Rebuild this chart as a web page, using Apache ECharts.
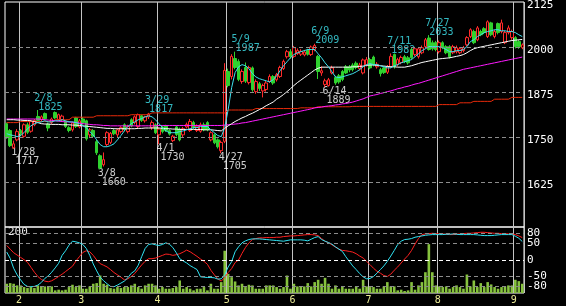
<!DOCTYPE html>
<html><head><meta charset="utf-8">
<script src="https://cdn.jsdelivr.net/npm/echarts/dist/echarts.min.js"></script>
<style>html,body{margin:0;padding:0;background:#000;}#c{width:566px;height:306px;}</style>
</head><body><div id="c"></div>
<script>
const dates = ['1/26','1/27','1/28','1/31',
'2/1','2/2','2/3','2/4','2/7','2/8','2/9','2/10','2/14','2/15','2/16','2/17','2/18','2/21','2/22','2/24','2/25','2/28',
'3/1','3/2','3/3','3/4','3/7','3/8','3/9','3/10','3/11','3/14','3/15','3/16','3/17','3/18','3/22','3/23','3/24','3/25','3/28','3/29','3/30','3/31',
'4/1','4/4','4/5','4/6','4/7','4/8','4/11','4/12','4/13','4/14','4/15','4/18','4/19','4/20','4/21','4/22','4/25','4/26','4/27','4/28',
'5/2','5/6','5/9','5/10','5/11','5/12','5/13','5/16','5/17','5/18','5/19','5/20','5/23','5/24','5/25','5/26','5/27','5/30','5/31',
'6/1','6/2','6/3','6/6','6/7','6/8','6/9','6/10','6/13','6/14','6/15','6/16','6/17','6/20','6/21','6/22','6/23','6/24','6/27','6/28','6/29','6/30',
'7/1','7/4','7/5','7/6','7/7','7/8','7/11','7/12','7/13','7/14','7/15','7/19','7/20','7/21','7/22','7/25','7/26','7/27','7/28','7/29',
'8/1','8/2','8/3','8/4','8/5','8/8','8/9','8/10','8/12','8/15','8/16','8/17','8/18','8/19','8/22','8/23','8/24','8/25','8/26','8/29','8/30','8/31',
'9/1','9/2','9/5'];

const opens = [1787,1768,1720,1742,1768,1752,1784,1766,1784,1807,1798,1815,1786,1790,1818,1798,1798,1793,1776,1770,1803,1778,
1800,1795,1756,1768,1737,1698,1673,1729,1735,1768,1756,1765,1784,1765,1798,1790,1779,1809,1795,1806,1776,1784,
1756,1778,1780,1768,1740,1778,1772,1756,1778,1768,1790,1768,1766,1784,1790,1742,1756,1742,1712,1738,
1932,1918,1968,1960,1904,1943,1901,1942,1876,1898,1878,1882,1904,1918,1909,1918,1940,1973,1987,
1974,1982,1980,1978,1990,1979,1993,1974,1928,1896,1893,1928,1915,1920,1932,1945,1945,1950,1955,1940,1928,1950,
1965,1972,1945,1937,1942,1930,1946,1979,1951,1957,1973,1970,1993,1979,1973,1984,2001,2025,2012,2012,
1987,2012,2001,2001,1984,1987,1984,1990,2006,2029,2043,2020,2043,2051,2029,2067,2029,2065,2043,2012,2040,2026,
2026,2015,1998];
const closes = [1748,1726,1731,1765,1760,1784,1763,1793,1796,1796,1806,1801,1775,1800,1803,1812,1808,1779,1768,1789,1779,1795,
1790,1745,1770,1752,1706,1664,1687,1762,1760,1759,1770,1776,1770,1779,1781,1806,1812,1796,1806,1814,1790,1762,
1772,1765,1768,1758,1752,1757,1742,1773,1785,1793,1777,1780,1784,1770,1770,1762,1734,1723,1735,1935,
1893,1974,1943,1910,1932,1905,1943,1881,1904,1885,1893,1900,1918,1900,1923,1943,1960,1987,1973,
1998,1990,1988,1986,1980,2000,2004,1932,1934,1906,1909,1942,1900,1903,1910,1928,1936,1937,1943,1950,1964,1965,
1942,1951,1952,1926,1929,1945,1974,1946,1965,1971,1960,1956,1970,1995,1995,1998,2020,1993,1995,1993,
2012,1998,1984,1973,2001,1998,1995,1998,2026,2048,2012,2053,2034,2040,2070,2034,2043,2040,2067,2040,2053,2043,
2001,2001,2006];
const highs = [1790,1772,1740,1772,1772,1788,1790,1797,1800,1825,1810,1818,1790,1804,1821,1815,1812,1796,1780,1793,1806,1800,
1805,1798,1775,1772,1742,1702,1707,1766,1764,1772,1774,1780,1788,1784,1802,1810,1815,1812,1809,1817,1796,1788,
1776,1782,1784,1772,1756,1782,1776,1778,1790,1800,1795,1785,1790,1790,1794,1766,1760,1746,1740,1955,
1940,1980,1987,1966,1938,1957,1948,1946,1910,1903,1898,1906,1924,1922,1928,1948,1965,1992,1994,
2003,1996,1994,1992,1995,2004,2009,1978,1946,1912,1914,1948,1920,1925,1936,1950,1950,1955,1960,1956,1968,1972,
1970,1976,1958,1942,1946,1950,1982,1982,1970,1976,1978,1975,1998,2000,2000,2004,2025,2033,2018,2017,
2018,2016,2005,2005,2006,2004,2000,2003,2030,2052,2048,2058,2048,2055,2074,2070,2048,2068,2076,2045,2060,2048,
2030,2020,2010];
const lows = [1745,1722,1717,1738,1752,1748,1758,1762,1780,1792,1794,1797,1766,1786,1800,1795,1794,1775,1763,1765,1775,1774,
1784,1740,1750,1748,1700,1660,1668,1725,1730,1755,1750,1760,1766,1760,1777,1785,1775,1792,1790,1800,1770,1758,
1730,1760,1764,1754,1736,1752,1738,1750,1774,1764,1772,1764,1762,1766,1766,1738,1730,1718,1705,1733,
1888,1910,1938,1905,1898,1900,1896,1876,1870,1878,1860,1876,1900,1895,1904,1914,1936,1968,1968,
1970,1978,1975,1974,1976,1975,1988,1911,1920,1889,1890,1924,1895,1898,1905,1925,1930,1932,1938,1935,1924,1946,
1938,1946,1940,1918,1925,1925,1942,1940,1946,1952,1955,1951,1965,1974,1968,1980,1996,1990,1990,1988,
1982,1994,1980,1968,1980,1982,1980,1985,2002,2025,2008,2016,2030,2036,2025,2030,2024,2035,2038,2008,2035,2020,
1996,1995,1994];

const ma5 = [1759,1756,1754,1751,1754,1762,1773,1781,1787,1790,1792,1795,1792,1792,1795,1795,1798,1795,1792,1792,
1790,1787,1781,1776,1765,1756,1742,1729,1723,1723,1726,1731,1742,1754,1767,1779,1787,1792,1798,1801,
1806,1809,1806,1798,1787,1776,1767,1762,1762,1762,1765,1767,1770,1773,1776,1776,1779,1779,1779,1770,
1762,1754,1751,1776,1826,1887,1929,1945,1951,1948,1940,1926,1917,1912,1909,1906,1903,1909,1920,1934,
1948,1959,1970,1979,1984,1987,1990,1993,1993,1993,1981,1970,1956,1945,1931,1917,1915,1917,1920,1923,
1926,1931,1937,1945,1951,1954,1951,1951,1948,1945,1942,1942,1948,1951,1956,1959,1962,1965,1973,1981,
1990,1995,2001,2001,2001,2001,1998,1993,1987,1987,1990,1990,1993,2001,2015,2020,2029,2034,2040,2043,
2045,2048,2048,2045,2045,2043,2043,2040,2034,2029];
const ma25 = [1798,1798,1798,1797,1797,1796,1796,1795,1793,1790,1787,1786,1786,1785,1785,1785,1784,1784,1784,1783,
1783,1782,1781,1780,1779,1778,1777,1776,1775,1774,1774,1773,1773,1773,1773,1773,1773,1773,1774,1774,
1775,1775,1775,1775,1775,1774,1773,1773,1772,1772,1771,1771,1771,1771,1771,1771,1771,1770,1770,1770,
1769,1768,1767,1774,1781,1787,1793,1798,1803,1807,1812,1816,1821,1826,1831,1837,1842,1847,1855,1861,
1868,1876,1884,1893,1901,1908,1915,1922,1929,1936,1941,1944,1944,1944,1944,1944,1944,1944,1944,1944,
1945,1945,1946,1947,1949,1950,1950,1949,1948,1947,1946,1945,1945,1944,1944,1944,1946,1948,1951,1954,
1957,1959,1961,1963,1965,1967,1968,1969,1970,1972,1974,1976,1979,1984,1990,1995,1998,2000,2002,2004,
2006,2008,2010,2012,2014,2016,2018,2019,2020,2021];
const ma75 = [1800,1800,1800,1800,1800,1800,1800,1800,1800,1800,1799,1798,1797,1796,1795,1794,1793,1792,1792,1791,
1790,1789,1787,1786,1785,1784,1784,1783,1782,1782,1781,1781,1781,1781,1781,1781,1781,1781,1781,1781,
1781,1781,1781,1781,1782,1782,1782,1782,1782,1782,1782,1782,1782,1782,1782,1782,1782,1782,1782,1782,
1782,1782,1782,1783,1784,1785,1786,1787,1789,1790,1792,1794,1796,1798,1800,1802,1804,1806,1808,1810,
1812,1814,1816,1818,1820,1822,1824,1826,1828,1831,1832,1833,1835,1836,1837,1839,1840,1842,1843,1845,
1847,1850,1853,1856,1860,1864,1866,1868,1871,1873,1876,1878,1881,1884,1886,1889,1891,1894,1897,1899,
1902,1905,1908,1911,1914,1917,1920,1923,1926,1929,1932,1935,1938,1940,1942,1944,1946,1948,1950,1952,
1954,1956,1958,1960,1962,1964,1966,1968,1970,1972];
const maLong = [1790,1790,1790,1790,1793,1793,1793,1793,1793,1793,1793,1793,1793,1793,1798,1798,1798,1798,1798,1805,
1805,1805,1805,1805,1805,1805,1809,1809,1809,1809,1809,1809,1809,1809,1809,1809,1812,1812,1812,1812,
1812,1812,1817,1817,1817,1817,1817,1817,1817,1817,1817,1817,1817,1817,1817,1817,1817,1817,1817,1817,
1817,1817,1817,1817,1825,1825,1825,1825,1825,1825,1825,1825,1829,1829,1829,1829,1829,1829,1829,1829,
1829,1829,1829,1829,1829,1831,1831,1831,1831,1831,1834,1834,1834,1834,1834,1834,1834,1834,1834,1834,
1835,1835,1835,1835,1835,1835,1835,1835,1835,1835,1835,1835,1835,1835,1835,1835,1835,1835,1835,1835,
1835,1835,1835,1835,1835,1840,1840,1840,1840,1840,1840,1845,1845,1845,1845,1849,1849,1849,1849,1849,
1849,1855,1855,1855,1855,1855,1860,1860,1860,1860];

const volumes = [28,30,28,23,23,18,15,
18,15,23,20,20,20,20,8,10,8,10,18,25,18,23,13,13,20,28,30,
53,28,25,15,13,18,15,18,18,23,28,18,13,23,28,28,23,13,18,13,13,15,18,38,13,18,13,8,
13,13,18,8,28,13,13,33,128,58,48,35,23,28,18,25,23,13,13,13,23,23,23,18,13,18,
53,13,28,20,20,20,30,20,33,40,28,46,28,13,23,13,20,13,13,
13,20,13,40,20,18,18,13,13,20,33,20,20,8,10,6,8,33,10,23,33,63,148,63,23,20,18,20,13,
18,23,18,13,56,20,38,18,30,18,33,26,18,13,
18,20,23,23,40,36,28];

const rciShort = [24,5,-25,-45,-60,-74,-80,-81,-80,-76,-68,-56,-48,-37,-24,-10,14,28,45,57,
55,52,47,35,14,-12,-33,-52,-63,-72,-80,-81,-76,-70,-64,-54,-40,-33,-16,10,
35,47,49,46,44,47,52,48,38,22,4,-3,-9,-17,-23,-29,-51,-52,-53,-53,
-54,-58,-57,-45,-21,-5,25,40,52,58,62,64,64,64,63,62,61,60,59,58,
57,59,61,61,61,61,60,58,63,68,71,62,57,53,48,40,33,26,10,-4,
-18,-29,-41,-51,-57,-56,-50,-40,-29,-18,-4,12,29,47,57,62,63,65,69,71,
73,75,76,77,77,77,77,78,78,79,78,77,77,77,77,77,76,75,74,74,
74,75,76,77,77,77,77,72,66,56];
const rciLong = [44,33,22,15,8,1,-7,-22,-37,-50,-59,-64,-66,-63,-57,-50,-43,-35,-27,-19,
-3,10,23,28,25,14,0,-11,-16,-21,-29,-38,-45,-52,-60,-57,-50,-41,-28,-15,
-4,4,4,6,10,14,18,17,14,16,19,24,30,25,18,11,3,-4,-13,-31,
-45,-57,-64,-53,-38,-26,-8,0,20,38,52,62,65,67,67,68,68,68,69,69,
71,72,73,73,74,75,76,77,77,76,74,65,57,52,46,39,33,29,28,26,
24,19,12,6,-4,-14,-25,-34,-40,-47,-50,-43,-31,-21,-9,3,14,29,48,65,
77,79,80,81,80,79,79,78,77,77,78,79,80,81,81,82,83,84,84,83,
82,81,81,80,80,79,79,77,73,68];

const priceTicks = [1625,1750,1875,2000,2125];
const rciTicks = [80,50,0,-50,-80];
const volumeMaxLabel = 200;

const highMarkDates = ['2/8','3/29','5/9','6/9','7/11','7/27'];
const highMarkValues = [1825,1817,1987,2009,1982,2033];
const lowMarkDates = ['1/28','3/8','4/1','4/27','6/14'];
const lowMarkValues = [1717,1660,1730,1705,1889];

const monthOf = d => d.split('/')[0];
const isMonthStart = i => i > 0 && monthOf(dates[i]) !== monthOf(dates[i-1]);

const MONO = 'DejaVu Sans Mono';
const chart = echarts.init(document.getElementById('c'));

const gridLineSeries = (xi, yi, lines) => ({
  type:'line', xAxisIndex:xi, yAxisIndex:yi, data:[], z:1, silent:true,
  markLine:{silent:true, symbol:['none','none'], animation:false, label:{show:false}, data:lines}
});

const option = {
  backgroundColor:'#000',
  animation:false,
  grid:[
    {left:5, top:2, width:519, height:225, show:true, borderColor:'#fff', borderWidth:1, backgroundColor:'transparent', containLabel:false, outerBoundsMode:'none'},
    {left:5, top:227, width:519, height:66, show:true, borderColor:'#fff', borderWidth:1, backgroundColor:'transparent', containLabel:false, outerBoundsMode:'none'}
  ],
  xAxis:[
    {type:'category', gridIndex:0, data:dates, boundaryGap:true,
     axisLine:{show:false}, axisTick:{show:false}, axisLabel:{show:false},
     splitLine:{show:true, interval:(i)=>isMonthStart(i), lineStyle:{color:'#c4c4c4', width:1}}},
    {type:'category', gridIndex:1, data:dates, boundaryGap:true,
     axisLine:{show:false}, axisTick:{show:false},
     axisLabel:{show:true, interval:(i)=>isMonthStart(i), formatter:(v)=>monthOf(v), color:'#eaea96', fontFamily:MONO, fontSize:10, margin:2, padding:[0,3,0,0]},
     splitLine:{show:true, interval:(i)=>isMonthStart(i), lineStyle:{color:'#c4c4c4', width:1}}}
  ],
  yAxis:[
    {type:'value', gridIndex:0, position:'right', min:1500, max:2125, interval:125, scale:false,
     axisLine:{show:false}, axisTick:{show:false}, splitLine:{show:false},
     axisLabel:{color:'#fff', fontFamily:MONO, fontSize:11, margin:3, verticalAlign:'top', lineHeight:6,
       formatter:(v)=> priceTicks.indexOf(v)>=0 ? String(v) : ''}},
    {type:'value', gridIndex:1, position:'right', min:-100, max:100, interval:10,
     axisLine:{show:false}, axisTick:{show:false}, splitLine:{show:false},
     axisLabel:{color:'#fff', fontFamily:MONO, fontSize:11, margin:3,
       formatter:(v)=> rciTicks.indexOf(v)>=0 ? String(v) : ''}},
    {type:'value', gridIndex:1, position:'left', min:0, max:volumeMaxLabel, interval:volumeMaxLabel,
     axisLine:{show:false}, axisTick:{show:false}, splitLine:{show:false},
     axisLabel:{inside:true, color:'#e8e8e8', fontFamily:MONO, fontSize:11, margin:3, verticalAlign:'top',
       formatter:(v)=> v===volumeMaxLabel ? String(v) : ''}}
  ],
  series:[
    gridLineSeries(0,0, priceTicks.filter(v=>v<2125).map(v=>({yAxis:v, lineStyle:{color:'#8c8c8c', type:[4,3], width:1}}))),
    gridLineSeries(1,1, rciTicks.map(v=>({yAxis:v, lineStyle:{color: v===0?'#ffffff':'#8c8c8c', type:[4,3], width:1}}))),
    {type:'scatter', xAxisIndex:0, yAxisIndex:0, z:2, silent:true, symbolSize:1,
     itemStyle:{color:'rgba(0,0,0,0)'},
     data: highMarkDates.map((d,k)=>({value:[d, highMarkValues[k]], name:d})),
     label:{show:true, position:[-3,2], align:'left', verticalAlign:'bottom', color:'#40e6f0',
       fontFamily:MONO, fontSize:10, lineHeight:9,
       formatter:(p)=> '{d|'+p.data.name+'}\n{v|'+p.data.value[1]+'}',
       rich:{d:{color:'#40e6f0', fontFamily:MONO, fontSize:10, lineHeight:9}, v:{color:'#40e6f0', fontFamily:MONO, fontSize:10, lineHeight:9, padding:[0,0,0,4]}}}},
    {type:'scatter', xAxisIndex:0, yAxisIndex:0, z:2, silent:true, symbolSize:1,
     itemStyle:{color:'rgba(0,0,0,0)'},
     data: lowMarkDates.map((d,k)=>({value:[d, lowMarkValues[k]], name:d})),
     label:{show:true, position:[-2,0], align:'left', verticalAlign:'top', color:'#ffffff',
       fontFamily:MONO, fontSize:10, lineHeight:9,
       formatter:(p)=> '{d|'+p.data.name+'}\n{v|'+p.data.value[1]+'}',
       rich:{d:{color:'#fff', fontFamily:MONO, fontSize:10, lineHeight:9}, v:{color:'#fff', fontFamily:MONO, fontSize:10, lineHeight:9, padding:[0,0,0,4]}}}},
    {type:'candlestick', xAxisIndex:0, yAxisIndex:0, z:3, barWidth:3,
     data: dates.map((d,i)=>[opens[i], closes[i], lows[i], highs[i]]),
     itemStyle:{color:'#000', color0:'#2fd22f', borderColor:'#ff2a2a', borderColor0:'#2fd22f', borderWidth:1}},
    {type:'line', xAxisIndex:0, yAxisIndex:0, z:4, data:maLong, showSymbol:false, symbol:'none', lineStyle:{color:'#e82a0a', width:1}},
    {type:'line', xAxisIndex:0, yAxisIndex:0, z:4, data:ma75, showSymbol:false, symbol:'none', lineStyle:{color:'#ff1aff', width:1}},
    {type:'line', xAxisIndex:0, yAxisIndex:0, z:4, data:ma25, showSymbol:false, symbol:'none', lineStyle:{color:'#ffffff', width:1}},
    {type:'line', xAxisIndex:0, yAxisIndex:0, z:4, data:ma5, showSymbol:false, symbol:'none', lineStyle:{color:'#3ee0ee', width:1}},
    {type:'bar', xAxisIndex:1, yAxisIndex:2, z:2, data:volumes, barWidth:2.6, itemStyle:{color:'#86c23e'}},
    {type:'line', xAxisIndex:1, yAxisIndex:1, z:4, data:rciLong, showSymbol:false, symbol:'none', lineStyle:{color:'#ff2020', width:1}},
    {type:'line', xAxisIndex:1, yAxisIndex:1, z:4, data:rciShort, showSymbol:false, symbol:'none', lineStyle:{color:'#30e4f4', width:1}}
  ]
};
chart.setOption(option);
</script>
</body></html>
